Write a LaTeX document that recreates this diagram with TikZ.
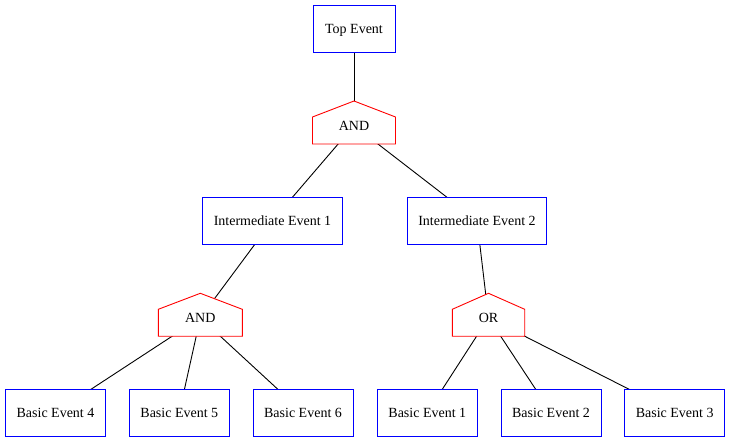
\documentclass[tikz,border=0pt]{standalone}
\usepackage{fontspec}
\setmainfont{Liberation Serif}
\usepackage{tikz}
\usetikzlibrary{calc,backgrounds}

\pgfdeclarelayer{edges}
\pgfdeclarelayer{gates}
\pgfsetlayers{edges,gates,main}

\tikzset{
  event/.style={draw=blue, fill=white, line width=0.9pt, minimum height=47pt, inner sep=0pt,
                text height=9.3pt, text depth=0pt},
  gate/.style={inner sep=0pt, text height=9.3pt, text depth=0pt},
  gateshape/.style={draw=red, fill=white, line width=0.9pt},
  link/.style={draw=black, line width=0.9pt}
}

% house shaped gate round a text node: #1 name, #2 half width
\newcommand{\gatehouse}[2]{
  \begin{pgfonlayer}{gates}
    \draw[gateshape] ($(#1.center)+(-#2,18.5)$) -- ($(#1.center)+(-#2,-8.5)$)
      -- ($(#1.center)+(0,-24.5)$) -- ($(#1.center)+(#2,-8.5)$)
      -- ($(#1.center)+(#2,18.5)$) -- cycle;
  \end{pgfonlayer}
}

\begin{document}
\begin{tikzpicture}[x=1pt, y=-1pt, font=\fontsize{14}{16}\selectfont]
    \useasboundingbox (0,0) rectangle (731,443);

    %Events
    \begin{scope}[every node/.style={event}]
      \node[minimum width=82pt] (top) at (354,28.5) {Top Event};
      \node[minimum width=140pt] (ie1) at (272.5,220.5) {Intermediate Event 1};
      \node[minimum width=139pt] (ie2) at (477,220.5) {Intermediate Event 2};
      \node[minimum width=100pt] (be4) at (55.5,412.5) {Basic Event 4};
      \node[minimum width=100pt] (be5) at (179.3,412.5) {Basic Event 5};
      \node[minimum width=100pt] (be6) at (303,412.5) {Basic Event 6};
      \node[minimum width=100pt] (be1) at (427.3,412.5) {Basic Event 1};
      \node[minimum width=100pt] (be2) at (551,412.5) {Basic Event 2};
      \node[minimum width=100pt] (be3) at (674.7,412.5) {Basic Event 3};
    \end{scope}

    %Gates
    \begin{scope}[every node/.style={gate}]
      \node (and1) at (354,125.5) {AND};
      \node (and2) at (200.3,317.8) {AND};
      \node (or1) at (488.5,317.8) {OR};
    \end{scope}
    \gatehouse{and1}{41.5}
    \gatehouse{and2}{42}
    \gatehouse{or1}{36.2}

    %Links
    \begin{pgfonlayer}{edges}
      \foreach \from/\to in {top/and1, and1/ie1, and1/ie2, ie1/and2, ie2/or1,
                             and2/be4, and2/be5, and2/be6, or1/be1, or1/be2, or1/be3}
        \draw[link] (\from.center) -- (\to.center);
    \end{pgfonlayer}
\end{tikzpicture}
\end{document}
